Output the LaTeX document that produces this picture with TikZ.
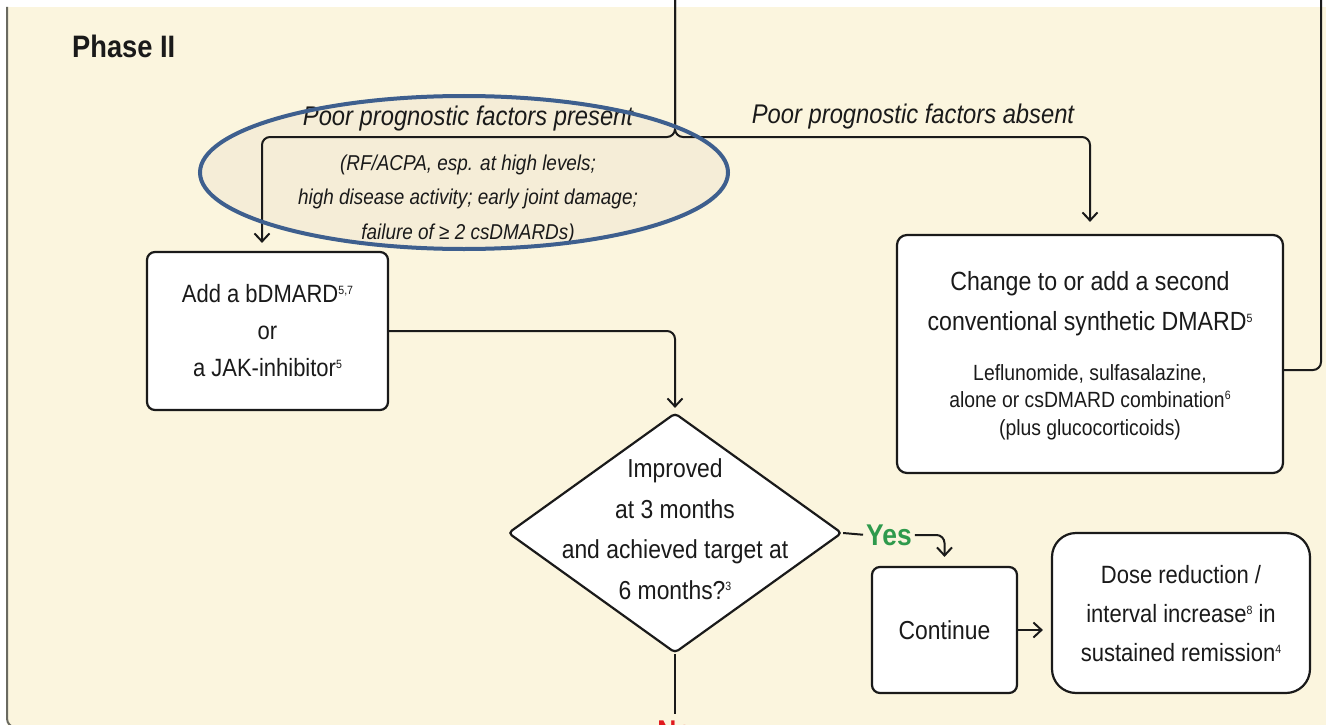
\documentclass[tikz,border=0pt]{standalone}
\usepackage{fontspec}
\setmainfont{Liberation Sans}[FakeStretch=0.88]
\usetikzlibrary{arrows.meta,shapes.geometric}
\definecolor{cream}{HTML}{FBF5DE}
\definecolor{ellfill}{HTML}{F5EDD7}
\definecolor{ellblue}{HTML}{3E5F8E}
\definecolor{yesgreen}{HTML}{2E9A4C}
\definecolor{nored}{HTML}{E0191E}
\definecolor{ink}{HTML}{1A1A1A}
\definecolor{bordergray}{HTML}{6A6A60}
\newcommand\supx[1]{\raisebox{8.5pt}{\fontsize{12}{12}\selectfont #1}}
\tikzset{
  box/.style={draw=ink, line width=2.2pt, fill=white, rounded corners=8pt, inner sep=0pt},
  conn/.style={draw=ink, line width=2pt, rounded corners=8pt},
  arr/.style={conn, -{Straight Barb[length=8pt,width=15pt]}},
  txt/.style={text=ink, align=center, inner sep=0pt},
  bigtxt/.style={txt, font=\fontsize{25}{37}\selectfont},
}
\begin{document}
\begin{tikzpicture}[x=1pt,y=-1pt]
\useasboundingbox (0,0) rectangle (1326,725);
\begin{scope}
\clip (0,0) rectangle (1326,725);
\fill[white] (0,0) rectangle (1326,725);
\fill[cream] (7,7) rectangle (1326,730);
\draw[bordergray, line width=2pt, rounded corners=9pt] (7,7) -- (7,727.5) -- (40,727.5);

% ellipse background
\fill[ellfill] (464,172.5) ellipse [x radius=264pt, y radius=76.5pt];

% coordinates
\coordinate (topin) at (675,0);
\coordinate (split) at (675,137);
\coordinate (lbranch) at (262,137);
\coordinate (rbranch) at (1090,137);
\coordinate (loopx) at (1321,370);
\coordinate (loopend) at (1321,0);

% title
\node[txt, anchor=base west, font=\bfseries\fontsize{31}{36}\selectfont] (title) at (72,58) {Phase II};

% branch labels
\node[txt, anchor=base, font=\itshape\fontsize{27}{32}\selectfont] (present) at (468,125) {Poor prognostic factors present};
\node[txt, anchor=base, font=\itshape\fontsize{27}{32}\selectfont] (absent) at (913,124) {Poor prognostic factors absent};
\node[txt, font=\itshape\fontsize{21.5}{34.5}\selectfont] (factors) at (468,199) {(RF/ACPA, esp. at high levels;\\ high disease activity; early joint damage;\\ failure of ≥ 2 csDMARDs)};

% boxes
\node[box, minimum width=241, minimum height=158] (addbox) at (267.5,331) {};
\node[bigtxt] (addtxt) at (addbox.center) {Add a bDMARD\supx{5,7}\\ or\\ a JAK-inhibitor\supx{5}};

\node[box, rounded corners=10pt, minimum width=386, minimum height=238] (chgbox) at (1090,354) {};
\node[txt, font=\fontsize{26.3}{40}\selectfont] (chgtxt) at (1090,304) {Change to or add a second\\ conventional synthetic DMARD\supx{5}};
\node[txt, font=\fontsize{22}{27.5}\selectfont] (chgsub) at (1090,402) {Leflunomide, sulfasalazine,\\ alone or csDMARD combination\supx{6}\\ (plus glucocorticoids)};

\node[diamond, draw=ink, line width=2.2pt, fill=white, rounded corners=4pt, inner sep=0pt, minimum width=334, minimum height=240] (dia) at (675,533) {};
\node[txt, font=\fontsize{26}{40.5}\selectfont] (diatxt) at (675,529) {Improved\\ at 3 months\\ and achieved target at\\ 6 months?\supx{3}};

\node[txt, anchor=center, font=\bfseries\fontsize{30}{36}\selectfont, text=yesgreen] (yes) at (889,535) {Yes};

\node[box, minimum width=145, minimum height=126] (cont) at (944.5,630) {};
\node[txt, font=\fontsize{26}{32}\selectfont] (conttxt) at (cont.center) {Continue};

\node[box, rounded corners=24pt, minimum width=258, minimum height=160] (dose) at (1181,613) {};
\node[txt, font=\fontsize{25}{39}\selectfont] (dosetxt) at (1181,614) {Dose reduction /\\ interval increase\supx{8} in\\ sustained remission\supx{4}};

\node[txt, anchor=base, font=\bfseries\fontsize{30}{36}\selectfont, text=nored] (no) at (675,741) {No};

% connectors
\draw[arr, shorten >=8pt] (topin) -- (split) -- (lbranch) -- ([xshift=-5.5pt]addbox.north);
\draw[arr, shorten >=12pt] (topin) -- (split) -- (rbranch) -- (chgbox.north);
\draw[arr, shorten >=4pt] (addbox.east) -| (dia.north);
\draw[conn, shorten >=3pt] (dia.east) -- (yes.west);
\draw[arr, shorten <=3pt, shorten >=9pt] (yes.east) -| (cont.north);
\draw[arr, shorten >=8pt] (cont.east) -- (cont.east -| dose.west);
\draw[conn] ([yshift=-16pt]chgbox.east) -- (loopx) -- (loopend);
\draw[conn, shorten >=6pt] (dia.south) -- (no.north);

% ellipse rim on top
\draw[ellblue, line width=4pt] (464,172.5) ellipse [x radius=264pt, y radius=76.5pt];
\end{scope}
\end{tikzpicture}
\end{document}
